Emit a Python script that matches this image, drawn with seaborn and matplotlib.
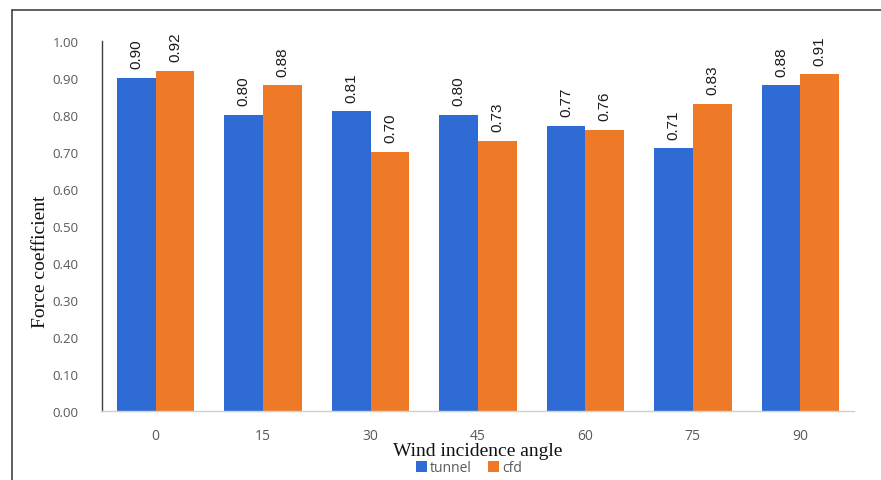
import matplotlib
matplotlib.use("Agg")
import matplotlib.pyplot as plt
import seaborn as sns
import pandas as pd
from matplotlib.patches import Patch
from matplotlib.lines import Line2D

angles = ["0", "15", "30", "45", "60", "75", "90"]
tunnel = [0.90, 0.80, 0.81, 0.80, 0.77, 0.71, 0.88]
cfd = [0.92, 0.88, 0.70, 0.73, 0.76, 0.83, 0.91]
series = ["tunnel", "cfd"]
y_ticks = [0.0, 0.1, 0.2, 0.3, 0.4, 0.5, 0.6, 0.7, 0.8, 0.9, 1.0]

colors = {"tunnel": "#2F6BD5", "cfd": "#EE7A28"}

df = pd.DataFrame({
    "angle": angles * 2,
    "value": tunnel + cfd,
    "series": [series[0]] * len(angles) + [series[1]] * len(angles),
})

sns.set_style("white")
fig = plt.figure(figsize=(8.81, 4.81), dpi=100)
ax = fig.add_axes([102 / 881, 1 - 412 / 481, 752 / 881, 370 / 481])

sns.barplot(data=df, x="angle", y="value", hue="series", order=angles,
            hue_order=series, palette=colors, width=0.72, saturation=1,
            errorbar=None, legend=False, linewidth=0, ax=ax)

for container in ax.containers:
    ax.bar_label(container, fmt="%.2f", rotation=90, padding=7,
                 fontsize=11, color="#1a1a1a",
                 family=["Liberation Sans", "DejaVu Sans"])

ax.set_ylim(0, 1.0)
ax.set_yticks(y_ticks)
ax.set_yticklabels([f"{v:.2f}" for v in y_ticks])
ax.tick_params(axis="both", length=0, labelsize=9.5, colors="#595959")
ax.tick_params(axis="x", labelsize=10)
ax.tick_params(axis="y", pad=17)
ax.tick_params(axis="x", pad=12)
for lab in ax.get_xticklabels() + ax.get_yticklabels():
    lab.set_family(["Open Sans", "DejaVu Sans"])

for side in ["top", "right"]:
    ax.spines[side].set_visible(False)
ax.spines["left"].set_color("#404040")
ax.spines["left"].set_linewidth(1.0)
ax.spines["bottom"].set_color("#D0D0D0")
ax.spines["bottom"].set_linewidth(1.0)

ax.set_ylabel("Force coefficient", family=["Liberation Serif", "DejaVu Serif"],
              fontsize=14, color="#111111")
ax.yaxis.set_label_coords(-0.071, 0.405)
ax.set_xlabel("Wind incidence angle", family=["Liberation Serif", "DejaVu Serif"],
              fontsize=14, color="#111111")
ax.xaxis.set_label_coords(0.5, -(451 - 412) / 370)
ax.xaxis.label.set_va("center")

handles = [Patch(facecolor=colors[s], edgecolor="none") for s in series]
fig.legend(handles, series, loc="center", bbox_to_anchor=(469 / 881, 1 - 469 / 481),
           ncol=2, frameon=False, handlelength=0.8, handleheight=0.8,
           handletextpad=0.2, columnspacing=1.2, borderpad=0.1,
           prop={"family": ["Open Sans", "DejaVu Sans"], "size": 10},
           labelcolor="#595959")

# outer frame around the chart area
fig.add_artist(Line2D([12 / 881, 12 / 881], [0, 1 - 11 / 481],
                      transform=fig.transFigure, color="#444444", lw=1.2))
fig.add_artist(Line2D([12 / 881, 1], [1 - 11 / 481, 1 - 11 / 481],
                      transform=fig.transFigure, color="#444444", lw=1.2))

fig.savefig("out.png", dpi=100)
